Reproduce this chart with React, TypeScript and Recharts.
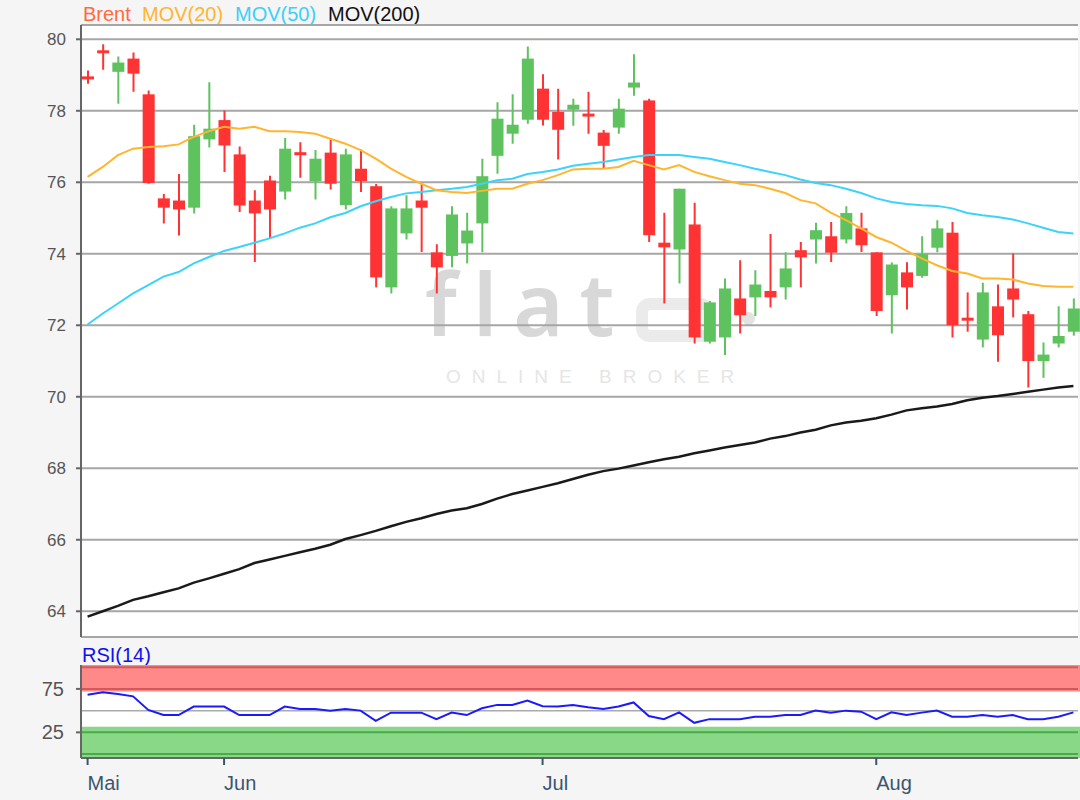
import React from 'react';
import { ComposedChart, Bar, Line, XAxis, YAxis, CartesianGrid, ReferenceArea, ReferenceLine } from 'recharts';

// Brent daily candles
const opens = [
  78.94, 79.67, 79.09, 79.46, 78.46, 75.55, 75.49, 75.29, 77.2, 77.74,
  76.78, 75.49, 76.05, 75.74, 76.82, 76.03, 76.83, 75.36, 76.38, 75.89,
  73.06, 74.57, 75.49, 74.04, 73.94, 74.29, 74.85, 76.74, 77.36, 77.75,
  78.62, 77.97, 78.03, 77.9, 77.39, 77.53, 78.65, 78.29, 74.31, 74.12,
  74.82, 71.54, 71.66, 72.75, 72.78, 72.96, 73.06, 74.1, 74.4, 74.49,
  74.4, 74.71, 74.04, 72.84, 73.48, 73.38, 74.17, 74.59, 72.19, 71.6,
  72.53, 73.03, 72.31, 71.0, 71.49, 71.82,
];
const highs = [
  79.13, 79.86, 79.52, 79.63, 78.57, 75.67, 76.23, 77.61, 78.8, 78.01,
  77.0, 75.78, 76.18, 77.24, 77.12, 76.9, 77.2, 76.94, 76.92, 75.95,
  75.33, 75.64, 75.95, 74.27, 75.33, 75.15, 76.66, 78.24, 78.46, 79.8,
  79.02, 78.62, 78.34, 78.53, 77.46, 78.34, 79.58, 78.34, 75.15, 75.82,
  75.43, 72.68, 73.31, 73.82, 73.54, 74.55, 74.04, 74.33, 74.87, 74.89,
  75.33, 75.15, 74.04, 73.76, 73.76, 74.49, 74.94, 74.89, 72.92, 73.19,
  73.14, 74.01, 72.4, 71.52, 72.53, 72.75,
];
const lows = [
  78.76, 79.15, 78.2, 78.53, 75.96, 74.85, 74.51, 75.13, 76.97, 76.29,
  75.17, 73.77, 74.43, 75.52, 76.13, 75.52, 75.8, 75.24, 75.73, 73.06,
  72.89, 74.4, 74.05, 72.89, 73.62, 73.73, 74.04, 76.24, 77.08, 77.64,
  77.59, 76.64, 77.58, 77.36, 76.38, 77.36, 78.42, 74.33, 72.61, 73.17,
  71.49, 71.49, 71.17, 71.77, 72.26, 72.5, 72.72, 73.06, 73.73, 73.77,
  74.29, 74.05, 72.26, 71.77, 72.44, 73.33, 74.04, 71.66, 71.82, 71.38,
  70.98, 72.22, 70.26, 70.53, 71.38, 71.71,
];
const closes = [
  78.9, 79.63, 79.35, 79.04, 75.98, 75.29, 75.24, 77.29, 77.5, 77.03,
  75.35, 75.13, 75.24, 76.94, 76.78, 76.66, 75.96, 76.78, 76.03, 73.34,
  75.27, 75.27, 75.29, 73.62, 75.1, 74.65, 76.17, 77.78, 77.61, 79.46,
  77.75, 77.47, 78.17, 77.86, 77.02, 78.06, 78.79, 74.52, 74.18, 75.82,
  71.66, 72.64, 73.03, 72.28, 73.14, 72.78, 73.59, 73.9, 74.66, 74.03,
  75.14, 74.24, 72.4, 73.7, 73.06, 73.99, 74.71, 72.0, 72.15, 72.92,
  71.72, 72.72, 71.0, 71.18, 71.7, 72.47,
];
const mov20 = [
  76.15, 76.43, 76.76, 76.94, 76.99, 77.01, 77.06, 77.27, 77.43, 77.55,
  77.5, 77.55, 77.43, 77.43, 77.41, 77.36, 77.22, 77.08, 76.9, 76.66,
  76.38, 76.15, 75.96, 75.78, 75.73, 75.7, 75.76, 75.82, 75.82, 75.96,
  76.06, 76.2, 76.36, 76.38, 76.38, 76.43, 76.6, 76.48, 76.36, 76.48,
  76.29, 76.17, 76.06, 75.96, 75.92, 75.82, 75.7, 75.5, 75.41, 75.15,
  74.94, 74.71, 74.47, 74.31, 74.08, 73.87, 73.68, 73.52, 73.45, 73.31,
  73.31, 73.28, 73.17, 73.1, 73.08, 73.08,
];
const mov50 = [
  72.02, 72.33, 72.61, 72.89, 73.12, 73.36, 73.49, 73.73, 73.91, 74.08,
  74.19, 74.31, 74.43, 74.57, 74.73, 74.85, 75.02, 75.14, 75.33, 75.47,
  75.59, 75.69, 75.73, 75.78, 75.82, 75.87, 75.96, 76.06, 76.1, 76.23,
  76.29, 76.36, 76.46, 76.52, 76.57, 76.64, 76.71, 76.76, 76.76, 76.76,
  76.71, 76.66, 76.57, 76.48, 76.38, 76.29, 76.2, 76.08, 75.98, 75.92,
  75.82, 75.7, 75.55, 75.45, 75.39, 75.36, 75.34, 75.27, 75.14, 75.08,
  75.03, 74.96, 74.85, 74.73, 74.61, 74.57,
];
const mov200 = [
  63.85, 64.0, 64.15, 64.32, 64.42, 64.53, 64.64, 64.8, 64.92, 65.05,
  65.18, 65.35, 65.45, 65.55, 65.65, 65.75, 65.86, 66.02, 66.13, 66.25,
  66.38, 66.5, 66.6, 66.72, 66.82, 66.88, 67.0, 67.15, 67.28, 67.38,
  67.48, 67.58, 67.7, 67.82, 67.92, 67.99, 68.08, 68.17, 68.25, 68.32,
  68.42, 68.5, 68.58, 68.65, 68.72, 68.83, 68.9, 69.0, 69.08, 69.2,
  69.28, 69.33, 69.4, 69.5, 69.62, 69.68, 69.73, 69.8, 69.9, 69.97,
  70.02, 70.08, 70.14, 70.2, 70.26, 70.3,
];
const rsi14 = [
  68.4, 71.1, 69.1, 66.4, 50.8, 44.9, 44.9, 54.7, 54.7, 54.7,
  44.9, 44.9, 44.9, 54.7, 52, 52, 50, 52, 50, 38.3,
  47.7, 47.7, 47.7, 40.2, 47.7, 44.9, 52.7, 56.6, 56.6, 61.7,
  55, 54.7, 56.6, 53.9, 52, 54.7, 59.4, 43.8, 40.2, 48,
  36, 40.2, 40.2, 40.2, 43, 43, 44.9, 44.9, 50, 47.7,
  50, 48.8, 40.2, 48, 44.9, 47.7, 50, 43, 43, 44.9,
  43, 44.9, 40.2, 40.2, 43, 48,
];

const priceTicks = [64, 66, 68, 70, 72, 74, 76, 78, 80];
const rsiTicks = [25, 75];
const monthTickIdx = [0, 9, 30, 52];
const monthLabels = ['Mai', 'Jun', 'Jul', 'Aug'];

const data = opens.map((open, i) => ({
  idx: i,
  open,
  high: highs[i],
  low: lows[i],
  close: closes[i],
  range: [lows[i], highs[i]],
  mov20: mov20[i],
  mov50: mov50[i],
  mov200: mov200[i],
  rsi: rsi14[i],
}));

const RED = '#ff3333';
const GREEN = '#5ec35e';
const BORDER = '#666';
const FONT = '"Liberation Sans", Arial, sans-serif';

const Candle = (props: any) => {
  const { x, y, width, height, payload } = props;
  if (x == null || y == null) return null;
  const { open, close, high, low } = payload;
  const color = close >= open ? GREEN : RED;
  const yHigh = Math.min(y, y + height);
  const yLow = Math.max(y, y + height);
  const span = high - low || 1;
  const toY = (v: number) => yHigh + ((high - v) / span) * (yLow - yHigh);
  const top = toY(Math.max(open, close));
  const bot = toY(Math.min(open, close));
  const cx = x + width / 2;
  const h = Math.max(bot - top, 3);
  return (
    <g>
      <line x1={cx} x2={cx} y1={yHigh} y2={yLow} stroke={color} strokeWidth={2} />
      <rect x={x} y={bot - top < 3 ? (top + bot) / 2 - 1.5 : top} width={width} height={h} fill={color} />
    </g>
  );
};

const MonthTick = (props: any) => {
  const { x, y, payload } = props;
  const k = monthTickIdx.indexOf(payload.value);
  return (
    <text x={x} y={y} dy={23} textAnchor="start" fill="#3b556e" fontSize={20} fontFamily={FONT}>
      {monthLabels[k]}
    </text>
  );
};

const axisLine = { stroke: BORDER, strokeWidth: 2 };

export default function App() {
  return (
    <div style={{ position: 'absolute', left: 0, top: 0, width: 1080, height: 800, background: '#f5f5f5', fontFamily: FONT, overflow: 'hidden' }}>
      <div style={{ position: 'absolute', top: 3, left: 0, fontSize: 20, lineHeight: '22px', whiteSpace: 'nowrap' }}>
        <span style={{ position: 'absolute', left: 83, color: '#ff6a3d' }}>Brent</span>
        <span style={{ position: 'absolute', left: 142, color: '#ffb52e' }}>MOV(20)</span>
        <span style={{ position: 'absolute', left: 235, color: '#3cd0f7' }}>MOV(50)</span>
        <span style={{ position: 'absolute', left: 328, color: '#111' }}>MOV(200)</span>
      </div>

      {/* plot background + watermark, under the chart */}
      <div style={{ position: 'absolute', left: 81, top: 25, width: 997, height: 612, background: '#fff' }} />
      <div style={{ position: 'absolute', left: 425, top: 248, fontFamily: '"Noto Sans", sans-serif', fontSize: 86, fontWeight: 600, letterSpacing: 16, color: '#d8d8d8', lineHeight: '110px' }}>
        flat
      </div>
      <div style={{ position: 'absolute', left: 636, top: 298, width: 78, height: 44, boxSizing: 'border-box', border: '12px solid #ebebeb', borderRight: 'none', borderRadius: 14 }} />
      <div style={{ position: 'absolute', left: 742, top: 312, width: 13, height: 13, borderRadius: 7, background: '#e3e3e3' }} />
      <div style={{ position: 'absolute', left: 446, top: 366, fontSize: 19, letterSpacing: 11, color: '#e6e6e6', whiteSpace: 'nowrap' }}>
        ONLINE BROKER
      </div>

      <div style={{ position: 'absolute', left: 0, top: 0 }}>
        <ComposedChart width={1080} height={640} data={data} margin={{ top: 25, right: 2, bottom: 3, left: 0 }}>
          <CartesianGrid vertical={false} stroke="#a6a6a6" strokeWidth={2} />
          <XAxis dataKey="idx" type="category" scale="band" height={0} tick={false} tickLine={false} axisLine={axisLine} padding={{ left: -1, right: -3 }} />
          <XAxis xAxisId="top" dataKey="idx" orientation="top" height={0} tick={false} tickLine={false} axisLine={axisLine} />
          <YAxis
            type="number"
            domain={[63.28, 80.4]}
            allowDataOverflow
            ticks={priceTicks}
            width={81}
            tickSize={5}
            tickMargin={10}
            tick={{ fill: '#555', fontSize: 17, fontFamily: FONT }}
            tickLine={axisLine}
            axisLine={axisLine}
          />
          <YAxis yAxisId="right" orientation="right" width={0} tick={false} tickLine={false} axisLine={axisLine} />
          <Bar dataKey="range" barSize={12} shape={(p: any) => <Candle {...p} />} isAnimationActive={false} />
          <Line dataKey="mov200" stroke="#1a1a1a" strokeWidth={2.5} dot={false} activeDot={false} isAnimationActive={false} />
          <Line dataKey="mov50" stroke="#3cd3fa" strokeWidth={2} dot={false} activeDot={false} isAnimationActive={false} />
          <Line dataKey="mov20" stroke="#ffb52e" strokeWidth={2} dot={false} activeDot={false} isAnimationActive={false} />
        </ComposedChart>
      </div>

      <div style={{ position: 'absolute', left: 82, top: 644, fontSize: 20, lineHeight: '22px', color: '#1010ee' }}>RSI(14)</div>

      <div style={{ position: 'absolute', left: 0, top: 664 }}>
        <ComposedChart width={1080} height={140} data={data} margin={{ top: 1, right: 2, bottom: 4, left: 0 }}>
          <XAxis
            dataKey="idx"
            type="category"
            scale="band"
            height={42}
            ticks={monthTickIdx}
            interval={0}
            tick={<MonthTick />}
            tickSize={7}
            tickLine={{ stroke: '#3b556e', strokeWidth: 2 }}
            axisLine={axisLine}
            padding={{ left: -1, right: -3 }}
          />
          <XAxis xAxisId="top" dataKey="idx" orientation="top" height={0} tick={false} tickLine={false} axisLine={axisLine} />
          <YAxis
            type="number"
            domain={[-4.5, 102.5]}
            allowDataOverflow
            ticks={rsiTicks}
            width={81}
            tickSize={5}
            tickMargin={12}
            tick={{ fill: '#555', fontSize: 20, fontFamily: FONT }}
            tickLine={axisLine}
            axisLine={axisLine}
          />
          <YAxis yAxisId="right" orientation="right" width={0} tick={false} tickLine={false} axisLine={axisLine} />
          <ReferenceArea y1={31.5} y2={72} fill="#fff" fillOpacity={1} stroke="none" />
          <ReferenceArea y1={72} y2={102.5} fill="#ff8888" fillOpacity={1} stroke="none" />
          <ReferenceArea y1={-4.5} y2={31.5} fill="#88d888" fillOpacity={1} stroke="none" />
          <ReferenceLine y={100} stroke="#d05a5a" strokeWidth={2} />
          <ReferenceLine y={75} stroke="#d05a5a" strokeWidth={2} />
          <ReferenceLine y={25} stroke="#4caa4c" strokeWidth={2} />
          <ReferenceLine y={0} stroke="#4caa4c" strokeWidth={2} />
          <ReferenceLine y={50} stroke="#aaa" strokeWidth={1.5} />
          <Line dataKey="rsi" stroke="#1a1aff" strokeWidth={2} dot={false} activeDot={false} isAnimationActive={false} />
        </ComposedChart>
      </div>
    </div>
  );
}
